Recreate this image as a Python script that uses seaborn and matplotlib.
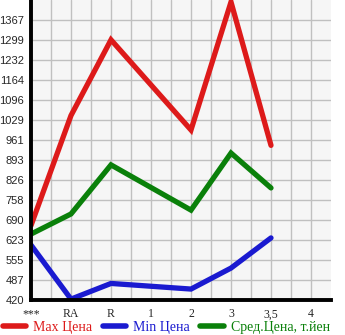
import numpy as np
import pandas as pd
import matplotlib
matplotlib.use("Agg")
import matplotlib.pyplot as plt
import seaborn as sns
from matplotlib.lines import Line2D

categories = ["***", "RA", "R", "1", "2", "3", "3,5", "4"]
max_price = [672, 1044, 1300, None, 995, 1428, 943, None]
min_price = [606, 423, 476, None, 457, 528, 630, None]
avg_price = [643, 711, 877, None, 724, 917, 799, None]
ytick_labels = ["420", "487", "555", "623", "690", "758", "826", "893",
                "961", "1029", "1096", "1164", "1232", "1299", "1367"]
series_names = ["Max Цена", "Min Цена", "Сред.Цена, т.йен"]
colors = ["#dd1a1a", "#1a1ad0", "#0a800a"]

sns.set_theme(style="white")
plt.rcParams['font.family'] = ['Liberation Sans', 'DejaVu Sans']

rows = []
for name, vals in zip(series_names, [max_price, min_price, avg_price]):
    for i, v in enumerate(vals):
        if v is not None:
            rows.append({"pos": i, "price": v, "series": name})
df = pd.DataFrame(rows)

fig = plt.figure(figsize=(3.45, 3.35), dpi=100)
ax = fig.add_axes([31/345, 35/335, 300/345, 300/335])
ax.set_facecolor("#f6f6f6")

sns.lineplot(data=df, x="pos", y="price", hue="series", palette=colors,
             hue_order=series_names, linewidth=3.8, ax=ax, legend=False,
             sort=True, estimator=None)
for line in ax.get_lines():
    line.set_solid_capstyle("round")
    line.set_solid_joinstyle("miter")

ystep = (1367 - 420) / 14
yticks = [420 + i * ystep for i in range(15)]
ax.set_ylim(420, 420 + 15 * ystep)
ax.set_xlim(0, 7.5)
ax.set_yticks(yticks)
ax.set_yticklabels(ytick_labels)
ax.set_xticks(range(len(categories)))
ax.set_xticklabels(categories, family="Liberation Serif", fontsize=8.5)
ax.set_xticks(np.arange(0.5, 7.5, 1), minor=True)
ax.grid(True, which="both", color="#c0c0c0", linewidth=1.0)
ax.set_axisbelow(True)
ax.set_xlabel("")
ax.set_ylabel("")
ax.tick_params(axis="both", which="both", direction="out", length=4,
               width=1, color="black", pad=2)
ax.tick_params(axis="y", labelsize=8, pad=1)
for s in ["top", "right"]:
    ax.spines[s].set_visible(False)
for s in ["left", "bottom"]:
    ax.spines[s].set_color("black")
    ax.spines[s].set_linewidth(2.8)

handles = [Line2D([0], [0], color=c, linewidth=4, solid_capstyle="round") for c in colors]
leg = fig.legend(handles, series_names, loc="center", ncol=3,
                 bbox_to_anchor=(0.482, 8/335), frameon=False, handlelength=1.7,
                 columnspacing=0.75, handletextpad=0.5, borderpad=0, borderaxespad=0,
                 prop={"family": "Liberation Serif", "size": 10})
for t, c in zip(leg.get_texts(), colors):
    t.set_color(c)

fig.savefig("out.png", dpi=100)
